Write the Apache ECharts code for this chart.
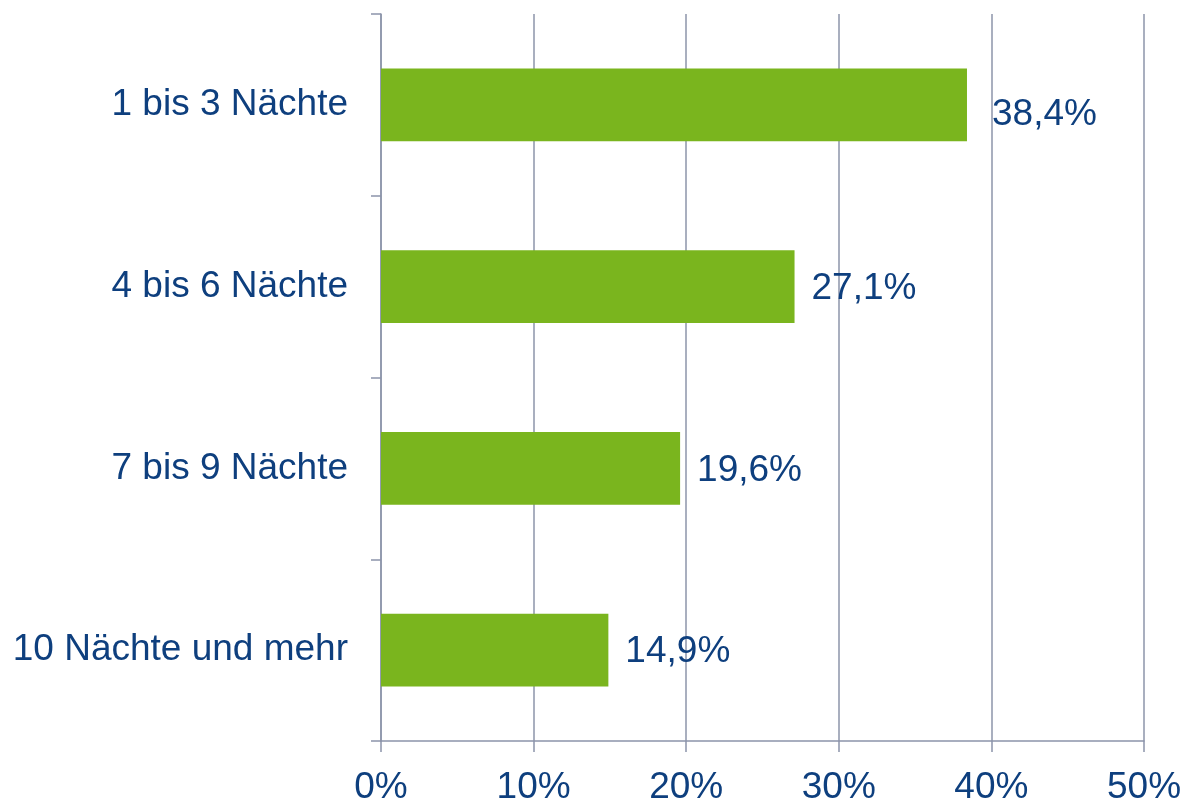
<!DOCTYPE html>
<html><head><meta charset="utf-8">
<script src="https://cdn.jsdelivr.net/npm/echarts@6/dist/echarts.min.js"></script>
<style>html,body{margin:0;padding:0;background:#fff}#c{width:1184px;height:800px}</style>
</head><body><div id="c"></div>
<script>
var categories = ['1 bis 3 Nächte', '4 bis 6 Nächte', '7 bis 9 Nächte', '10 Nächte und mehr'];
var values = [38.4, 27.1, 19.6, 14.9];
var valueLabels = ['38,4%', '27,1%', '19,6%', '14,9%'];
var xTicks = [0, 10, 20, 30, 40, 50];

var textColor = '#0E3F7E';
var gridColor = '#8C94AA';
var font = 'Liberation Sans, Arial, sans-serif';
var chart = echarts.init(document.getElementById('c'));
chart.setOption({
  animation: false,
  grid: {left: 381, right: 40, top: 14, bottom: 59, containLabel: false, outerBoundsMode: 'none'},
  xAxis: {
    type: 'value', min: xTicks[0], max: xTicks[xTicks.length - 1], interval: 10,
    axisLine: {show: true, lineStyle: {color: gridColor, width: 1.5}},
    axisTick: {show: true, length: 11, lineStyle: {color: gridColor, width: 1.5}},
    splitLine: {show: true, lineStyle: {color: gridColor, width: 1.5}},
    axisLabel: {color: textColor, fontFamily: font, fontSize: 37, margin: 28,
      formatter: function (v) { return v + '%'; }}
  },
  yAxis: {
    type: 'category', data: categories, inverse: true,
    axisLine: {show: true, lineStyle: {color: gridColor, width: 1.5}},
    axisTick: {show: true, length: 10, lineStyle: {color: gridColor, width: 1.5}},
    axisLabel: {color: textColor, fontFamily: font, fontSize: 37, margin: 33}
  },
  series: [{
    type: 'bar', barWidth: '40%',
    itemStyle: {color: '#7AB51E'},
    data: values.map(function (v, i) {
      return {value: v, label: i === 0 ? {offset: [8, 10]} : {offset: [0, 2]}};
    }),
    label: {show: true, position: 'right', distance: 17, color: textColor,
      fontFamily: font, fontSize: 37,
      formatter: function (p) { return valueLabels[p.dataIndex]; }}
  }]
});
</script></body></html>
